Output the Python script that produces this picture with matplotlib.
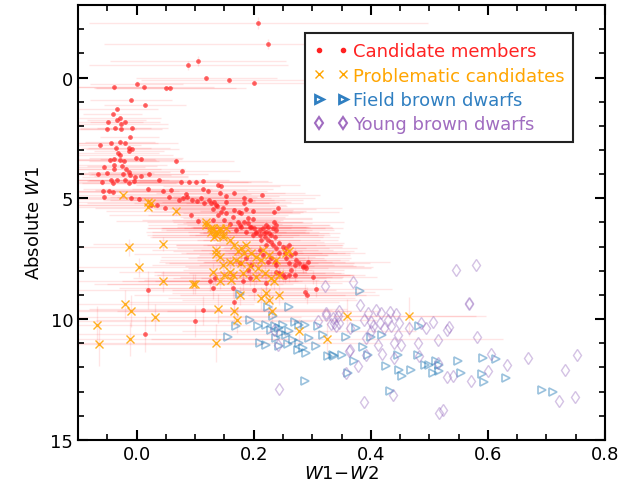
import numpy as np
import matplotlib
matplotlib.use("Agg")
import matplotlib.pyplot as plt
from matplotlib.lines import Line2D
from matplotlib.ticker import MultipleLocator

plt.rcParams['mathtext.fontset'] = 'dejavusans'

# --- candidate members (red), grouped by region of the CMD ---
top_x = [0.208, 0.225, 0.105, 0.088, 0.119, 0.158, 0.201, -0.038, 0.000, 0.013,
         0.050, 0.057, -0.009, 0.014, -0.033, -0.041]
top_y = [-2.27, -1.40, -0.69, -0.50, 0.04, 0.12, 0.21, 0.40, 0.25, 0.40,
         0.44, 0.44, 0.95, 1.12, 1.32, 1.53]
top_xerr = [0.29, 0.28, 0.15, 0.17, 0.12, 0.15, 0.20, 0.10, 0.08, 0.12,
            0.12, 0.13, 0.07, 0.07, 0.07, 0.05]
top_yerr = [0.25, 0.20, 0.20, 0.20, 0.10, 0.10, 0.10, 0.10, 0.10, 0.10,
            0.10, 0.10, 0.08, 0.08, 0.08, 0.08]

upper_x = [-0.049, -0.034, -0.029, -0.020, -0.026, -0.036, -0.051, -0.026, -0.007, -0.012,
           -0.062, -0.043, -0.028, -0.020, -0.013, -0.007, -0.035, -0.032, -0.028, -0.013,
           -0.046, -0.038, -0.029, -0.022, -0.001, 0.008, 0.067, -0.056, -0.038, -0.025,
           -0.038, -0.018, -0.013, 0.077, -0.065, -0.050, -0.023, -0.012, -0.003, 0.007,
           0.022]
upper_y = [1.86, 1.74, 1.69, 1.86, 1.94, 2.07, 2.14, 2.15, 2.11, 2.45,
           2.80, 2.73, 2.66, 2.73, 2.91, 2.96, 2.91, 3.14, 3.21, 3.04,
           3.42, 3.38, 3.42, 3.44, 3.35, 3.39, 3.44, 3.69, 3.60, 3.65,
           3.80, 3.80, 3.90, 3.87, 4.00, 3.97, 4.00, 4.04, 4.10, 4.06,
           4.00]
upper_xerr = [0.06, 0.05, 0.07, 0.06, 0.08, 0.06, 0.05, 0.07, 0.06, 0.05,
              0.07, 0.08, 0.06, 0.09, 0.07, 0.08, 0.06, 0.07, 0.09, 0.06,
              0.08, 0.07, 0.10, 0.06, 0.08, 0.07, 0.10, 0.07, 0.09, 0.06,
              0.08, 0.10, 0.07, 0.10, 0.09, 0.08, 0.10, 0.07, 0.09, 0.08,
              0.10]
upper_yerr = [0.08, 0.08, 0.10, 0.08, 0.10, 0.08, 0.10, 0.08, 0.10, 0.08,
              0.10, 0.08, 0.10, 0.08, 0.10, 0.08, 0.10, 0.08, 0.10, 0.08,
              0.10, 0.08, 0.10, 0.08, 0.10, 0.08, 0.12, 0.10, 0.08, 0.10,
              0.08, 0.10, 0.08, 0.12, 0.10, 0.08, 0.10, 0.08, 0.10, 0.08,
              0.10]

mid_x = [-0.034, -0.020, -0.005, 0.038, -0.059, -0.043, -0.040, -0.013, 0.076, 0.090,
         0.102, 0.114, 0.139, -0.057, -0.047, -0.040, 0.019, 0.045, 0.059, 0.113,
         0.122, -0.056, -0.009, 0.004, 0.055, 0.072, 0.080, 0.086, 0.095, 0.103,
         0.110, 0.123, 0.133, 0.137, 0.035, 0.049, 0.093, 0.025, 0.085, 0.116,
         0.127, 0.105]
mid_y = [4.24, 4.24, 4.28, 4.24, 4.34, 4.24, 4.38, 4.38, 4.34, 4.31,
         4.34, 4.28, 4.45, 4.68, 4.70, 4.75, 4.61, 4.68, 4.66, 4.63,
         4.70, 4.93, 4.97, 5.03, 4.93, 5.07, 5.00, 4.93, 5.07, 5.11,
         4.97, 5.07, 5.17, 5.30, 5.28, 5.38, 5.71, 5.28, 4.83, 5.21,
         5.21, 5.94]
mid_xerr = [0.09, 0.10, 0.08, 0.12, 0.10, 0.09, 0.11, 0.08, 0.12, 0.10,
            0.13, 0.11, 0.14, 0.10, 0.12, 0.09, 0.11, 0.10, 0.13, 0.12,
            0.10, 0.14, 0.11, 0.12, 0.10, 0.13, 0.11, 0.12, 0.14, 0.10,
            0.12, 0.13, 0.11, 0.12, 0.15, 0.12, 0.14, 0.13, 0.11, 0.12,
            0.10, 0.14]
mid_yerr = [0.10, 0.10, 0.12, 0.10, 0.12, 0.10, 0.12, 0.10, 0.12, 0.10,
            0.12, 0.10, 0.12, 0.10, 0.12, 0.10, 0.12, 0.10, 0.12, 0.10,
            0.12, 0.10, 0.12, 0.10, 0.12, 0.10, 0.12, 0.10, 0.12, 0.10,
            0.12, 0.10, 0.12, 0.10, 0.12, 0.10, 0.15, 0.12, 0.10, 0.12,
            0.10, 0.15]

core_x = [0.145, 0.167, 0.153, 0.143, 0.214, 0.184, 0.194, 0.153, 0.184, 0.136,
          0.147, 0.241, 0.167, 0.187, 0.199, 0.235, 0.130, 0.145, 0.153, 0.175,
          0.179, 0.139, 0.164, 0.190, 0.199, 0.130, 0.150, 0.173, 0.184, 0.235,
          0.159, 0.179, 0.193, 0.201, 0.210, 0.224, 0.238, 0.170, 0.204, 0.218,
          0.230,
          0.176, 0.190, 0.196, 0.216, 0.221, 0.210, 0.219, 0.227, 0.204, 0.199,
          0.213, 0.224, 0.230, 0.236, 0.221, 0.233, 0.238, 0.244, 0.250, 0.244,
          0.253, 0.256, 0.264, 0.270, 0.273, 0.261, 0.270, 0.278, 0.284, 0.290,
          0.238, 0.236, 0.230, 0.216, 0.210, 0.233, 0.238, 0.221, 0.187, 0.256,
          0.261, 0.244, 0.253, 0.270, 0.264, 0.224, 0.187, 0.176, 0.196, 0.190,
          0.238]
core_y = [4.49, 4.79, 4.89, 4.79, 4.86, 4.97, 5.07, 5.14, 5.21, 5.28,
          5.38, 5.38, 5.48, 5.44, 5.51, 5.58, 5.44, 5.55, 5.62, 5.55,
          5.62, 5.71, 5.76, 5.80, 5.85, 5.90, 5.90, 5.96, 5.96, 5.96,
          6.07, 6.17, 6.17, 6.24, 6.31, 6.17, 6.31, 6.31, 6.45, 6.45,
          6.52,
          6.10, 6.03, 6.17, 6.24, 6.38, 6.52, 6.58, 6.45, 6.38, 6.52,
          6.72, 6.72, 6.79, 6.58, 6.93, 6.93, 7.07, 6.86, 7.00, 7.27,
          7.27, 7.48, 7.34, 7.27, 7.55, 7.69, 7.75, 7.69, 7.82, 7.89,
          7.75, 7.62, 7.48, 7.34, 7.13, 6.24, 6.10, 6.10, 6.38, 7.07,
          6.93, 8.10, 8.24, 8.17, 7.96, 7.62, 7.48, 7.69, 7.75, 7.96,
          8.03]
core_xerr = [0.10, 0.12, 0.09, 0.11, 0.10, 0.12, 0.09, 0.11, 0.10, 0.12,
             0.09, 0.11, 0.10, 0.12, 0.09, 0.11, 0.10, 0.12, 0.09, 0.11,
             0.10, 0.12, 0.09, 0.11, 0.10, 0.12, 0.09, 0.11, 0.10, 0.12,
             0.09, 0.11, 0.10, 0.12, 0.09, 0.11, 0.10, 0.12, 0.09, 0.11,
             0.10,
             0.09, 0.11, 0.10, 0.12, 0.09, 0.11, 0.10, 0.12, 0.09, 0.11,
             0.10, 0.12, 0.09, 0.11, 0.10, 0.12, 0.09, 0.11, 0.10, 0.12,
             0.09, 0.11, 0.10, 0.12, 0.09, 0.11, 0.10, 0.12, 0.09, 0.11,
             0.10, 0.12, 0.09, 0.11, 0.10, 0.12, 0.09, 0.11, 0.10, 0.12,
             0.09, 0.11, 0.10, 0.12, 0.09, 0.11, 0.10, 0.12, 0.09, 0.11,
             0.10]
core_yerr = [0.10, 0.12, 0.10, 0.12, 0.10, 0.12, 0.10, 0.12, 0.10, 0.12,
             0.10, 0.12, 0.10, 0.12, 0.10, 0.12, 0.10, 0.12, 0.10, 0.12,
             0.10, 0.12, 0.10, 0.12, 0.10, 0.12, 0.10, 0.12, 0.10, 0.12,
             0.12, 0.15, 0.12, 0.15, 0.12, 0.15, 0.12, 0.15, 0.12, 0.15,
             0.12,
             0.12, 0.15, 0.12, 0.15, 0.12, 0.15, 0.12, 0.15, 0.12, 0.15,
             0.15, 0.18, 0.15, 0.18, 0.15, 0.18, 0.15, 0.18, 0.15, 0.18,
             0.18, 0.20, 0.18, 0.20, 0.18, 0.20, 0.18, 0.20, 0.18, 0.20,
             0.18, 0.20, 0.18, 0.20, 0.18, 0.15, 0.15, 0.15, 0.15, 0.18,
             0.18, 0.25, 0.25, 0.25, 0.20, 0.20, 0.20, 0.20, 0.20, 0.22,
             0.22]

low_x = [0.284, 0.288, 0.292, 0.301, 0.307, 0.288, 0.291, 0.019, 0.113, 0.100,
         0.015, 0.125, 0.134, 0.130, 0.166, 0.164, 0.201, 0.221, 0.250, 0.261,
         0.181, 0.193]
low_y = [7.85, 7.82, 7.62, 8.26, 8.75, 8.86, 9.02, 8.79, 9.64, 10.07,
         10.62, 8.44, 8.31, 8.72, 9.31, 8.72, 8.79, 8.51, 8.17, 8.17,
         8.44, 8.31]
low_xerr = [0.12, 0.10, 0.14, 0.11, 0.13, 0.12, 0.10, 0.18, 0.22, 0.20,
            0.25, 0.15, 0.14, 0.16, 0.18, 0.15, 0.14, 0.13, 0.12, 0.11,
            0.15, 0.13]
low_yerr = [0.25, 0.20, 0.25, 0.30, 0.35, 0.30, 0.35, 0.80, 0.60, 0.65,
            0.75, 0.40, 0.35, 0.45, 0.50, 0.40, 0.40, 0.35, 0.30, 0.30,
            0.35, 0.30]

# --- problematic candidates (orange) ---
prob_x = [-0.024, 0.019, 0.025, 0.019, 0.068, 0.118, 0.127, 0.136, 0.142, 0.147,
          0.133, -0.013, 0.046, 0.004, 0.045, 0.097, 0.100, -0.020, -0.009, 0.031,
          -0.067, -0.064, -0.012, 0.136, 0.130, 0.139, 0.136, 0.167, 0.171, 0.232,
          0.244, 0.227, 0.213, 0.277, 0.325, 0.142, 0.162, 0.176, 0.150, 0.159,
          0.181, 0.204, 0.230, 0.235, 0.221, 0.359, 0.466, 0.142, 0.136, 0.147,
          0.127, 0.153, 0.159, 0.167, 0.179, 0.187, 0.184, 0.173, 0.196, 0.204,
          0.213, 0.170, 0.159, 0.142, 0.136, 0.147, 0.179, 0.193, 0.207, 0.219,
          0.244, 0.256, 0.261, 0.216, 0.227, 0.238, 0.165, 0.119, 0.130]
prob_y = [4.86, 5.14, 5.21, 5.34, 5.52, 5.99, 6.24, 6.38, 6.24, 6.52,
          6.58, 7.02, 6.90, 7.86, 8.44, 8.55, 8.55, 9.38, 9.66, 9.93,
          10.26, 11.03, 10.81, 7.31, 8.03, 9.57, 10.99, 9.68, 10.03, 9.66,
          9.00, 9.20, 9.13, 10.48, 10.81, 8.44, 8.38, 9.02, 8.17, 8.03,
          8.10, 8.24, 8.31, 8.44, 8.93, 9.86, 9.89, 6.31, 6.52, 6.58,
          6.38, 6.24, 6.72, 6.93, 7.07, 6.93, 7.27, 7.20, 7.27, 7.41,
          7.55, 7.55, 7.62, 7.41, 7.13, 7.75, 7.69, 7.82, 7.89, 8.10,
          8.17, 7.27, 7.20, 7.13, 7.34, 7.55, 8.17, 6.10, 6.24]
prob_xerr = [0.10, 0.12, 0.11, 0.13, 0.12, 0.10, 0.11, 0.12, 0.10, 0.13,
             0.11, 0.15, 0.12, 0.16, 0.18, 0.17, 0.15, 0.22, 0.24, 0.25,
             0.26, 0.28, 0.27, 0.14, 0.16, 0.22, 0.28, 0.20, 0.24, 0.18,
             0.17, 0.15, 0.16, 0.20, 0.30, 0.14, 0.15, 0.18, 0.12, 0.13,
             0.14, 0.13, 0.12, 0.14, 0.16, 0.22, 0.13, 0.10, 0.11, 0.12,
             0.10, 0.11, 0.12, 0.10, 0.11, 0.12, 0.10, 0.11, 0.12, 0.10,
             0.11, 0.13, 0.12, 0.10, 0.11, 0.12, 0.13, 0.11, 0.12, 0.13,
             0.12, 0.10, 0.11, 0.12, 0.10, 0.11, 0.13, 0.10, 0.11]
prob_yerr = [0.12, 0.15, 0.12, 0.15, 0.15, 0.15, 0.15, 0.20, 0.15, 0.20,
             0.20, 0.35, 0.30, 0.40, 0.45, 0.40, 0.40, 0.60, 0.65, 0.55,
             0.80, 0.90, 0.70, 0.25, 0.35, 0.60, 0.80, 0.45, 0.55, 0.50,
             0.40, 0.40, 0.45, 0.50, 0.70, 0.30, 0.30, 0.40, 0.25, 0.25,
             0.30, 0.30, 0.35, 0.35, 0.40, 0.70, 0.80, 0.15, 0.20, 0.20,
             0.15, 0.15, 0.20, 0.20, 0.20, 0.20, 0.25, 0.20, 0.25, 0.25,
             0.25, 0.25, 0.25, 0.20, 0.20, 0.25, 0.25, 0.25, 0.30, 0.30,
             0.30, 0.25, 0.25, 0.25, 0.25, 0.25, 0.30, 0.15, 0.15]

# --- field brown dwarfs (blue) ---
field_x = [0.176, 0.224, 0.260, 0.193, 0.156, 0.170, 0.207, 0.221, 0.230, 0.236,
           0.244, 0.250, 0.247, 0.238, 0.255, 0.261, 0.267, 0.278, 0.275, 0.284,
           0.290, 0.210, 0.244, 0.258, 0.278, 0.287, 0.310, 0.318, 0.307, 0.327,
           0.338, 0.288, 0.233, 0.270, 0.221, 0.295, 0.381, 0.375, 0.357, 0.401,
           0.420, 0.336, 0.351, 0.386, 0.372, 0.395, 0.361, 0.426, 0.449, 0.453,
           0.469, 0.480, 0.483, 0.446, 0.492, 0.500, 0.506, 0.517, 0.511, 0.517,
           0.549, 0.554, 0.432, 0.591, 0.613, 0.590, 0.594, 0.631, 0.692, 0.712]
field_y = [8.97, 9.48, 9.48, 10.03, 10.72, 10.30, 10.30, 10.23, 10.44, 10.30,
           10.37, 10.23, 10.58, 10.78, 10.65, 10.51, 10.85, 10.99, 11.27, 11.20,
           11.40, 10.99, 11.13, 11.03, 10.23, 10.23, 10.30, 10.65, 11.13, 11.54,
           11.54, 12.55, 9.89, 10.10, 11.06, 10.78, 8.83, 10.37, 10.72, 10.72,
           10.65, 11.50, 11.47, 11.17, 11.75, 11.50, 12.23, 11.95, 12.09, 12.37,
           12.09, 11.50, 10.30, 11.47, 11.89, 11.91, 12.23, 12.16, 11.75, 11.89,
           11.75, 12.23, 12.96, 11.61, 11.64, 12.26, 12.62, 12.44, 12.95, 13.03]

# --- young brown dwarfs (purple) ---
young_x = [0.546, 0.369, 0.381, 0.567, 0.409, 0.418, 0.432, 0.443, 0.346, 0.344,
           0.335, 0.346, 0.395, 0.389, 0.401, 0.403, 0.415, 0.429, 0.435, 0.449,
           0.466, 0.486, 0.494, 0.506, 0.531, 0.534, 0.364, 0.392, 0.412, 0.440,
           0.446, 0.452, 0.480, 0.514, 0.364, 0.379, 0.420, 0.440, 0.483, 0.358,
           0.392, 0.514, 0.531, 0.541, 0.389, 0.438, 0.516, 0.523, 0.423, 0.401,
           0.580, 0.568, 0.581, 0.606, 0.633, 0.600, 0.571, 0.668, 0.732, 0.753,
           0.722, 0.749, 0.321, 0.243, 0.324, 0.332, 0.363, 0.324, 0.310, 0.338,
           0.341, 0.235, 0.241]
young_y = [7.96, 8.48, 9.41, 9.34, 9.61, 9.75, 9.71, 9.79, 9.68, 9.89,
           9.96, 10.16, 9.75, 10.03, 10.10, 10.30, 10.16, 10.03, 10.30, 10.16,
           10.37, 10.16, 10.37, 10.10, 10.44, 10.34, 10.37, 10.78, 11.06, 10.99,
           10.65, 11.06, 10.99, 10.85, 11.27, 11.95, 11.44, 11.61, 11.54, 12.23,
           11.47, 11.82, 12.41, 12.37, 13.43, 13.13, 13.88, 13.74, 10.37, 10.51,
           7.75, 9.37, 10.72, 11.44, 11.91, 12.16, 12.57, 11.61, 12.12, 11.47,
           13.40, 13.21, 8.62, 12.88, 9.82, 10.21, 11.33, 9.75, 10.07, 10.17,
           10.30, 10.45, 11.06]

cand_x = np.concatenate([top_x, upper_x, mid_x, core_x, low_x])
cand_y = np.concatenate([top_y, upper_y, mid_y, core_y, low_y])
cand_xerr = np.concatenate([top_xerr, upper_xerr, mid_xerr, core_xerr, low_xerr])
cand_yerr = np.concatenate([top_yerr, upper_yerr, mid_yerr, core_yerr, low_yerr])

c_red = '#ff2222'
c_orange = '#ffa500'
c_blue = '#2f7fc1'
c_purple = '#a06cc0'

fig = plt.figure(figsize=(6.22, 4.89), dpi=100)
ax = fig.add_axes([0.1254, 0.0982, 0.8473, 0.8895])

# error bars first, faint pink
ax.errorbar(cand_x, cand_y, xerr=cand_xerr, yerr=cand_yerr, fmt='none',
            ecolor='red', alpha=0.1, elinewidth=1.0, zorder=1)
ax.errorbar(prob_x, prob_y, xerr=prob_xerr, yerr=prob_yerr, fmt='none',
            ecolor='red', alpha=0.1, elinewidth=1.0, zorder=1)

ax.plot(cand_x, cand_y, 'o', color=c_red, ms=3.4, mew=0, alpha=0.7, zorder=3)
ax.plot(prob_x, prob_y, 'x', color=c_orange, ms=6, mew=1.0, alpha=0.85, zorder=4)
ax.plot(field_x, field_y, '>', mfc='none', mec='#1f77b4', ms=6, mew=1.2,
        alpha=0.45, zorder=2)
ax.plot(young_x, young_y, 'd', mfc='none', mec='#9467bd', ms=6.5, mew=1.0,
        alpha=0.4, zorder=2)

ax.set_xlim(-0.1, 0.8)
ax.set_ylim(15, -3)
ax.xaxis.set_major_locator(MultipleLocator(0.2))
ax.xaxis.set_minor_locator(MultipleLocator(0.05))
ax.yaxis.set_major_locator(MultipleLocator(5))
ax.yaxis.set_minor_locator(MultipleLocator(1))
ax.tick_params(which='both', direction='in', top=True, right=True, labelsize=13)
ax.tick_params(which='major', length=7, width=1.5)
ax.tick_params(which='minor', length=4, width=1.2)
for s in ax.spines.values():
    s.set_linewidth(1.5)

ax.set_xlabel(r'$W1\!-\!W2$', fontsize=13, labelpad=1)
ax.set_ylabel(r'Absolute $W1$', fontsize=13, labelpad=5)

handles = [
    Line2D([], [], ls='none', marker='.', color=c_red, ms=6),
    Line2D([], [], ls='none', marker='x', color=c_orange, ms=6, mew=1.0),
    Line2D([], [], ls='none', marker='>', mfc='none', mec=c_blue, ms=6, mew=2),
    Line2D([], [], ls='none', marker='d', mfc='none', mec=c_purple, ms=6, mew=1.5),
]
labels = ['Candidate members', 'Problematic candidates',
          'Field brown dwarfs', 'Young brown dwarfs']
leg = ax.legend(handles, labels, loc='upper right', bbox_to_anchor=(0.94, 0.935),
                borderaxespad=0, numpoints=2, fontsize=13, fancybox=False,
                framealpha=1, edgecolor='#222222', handlelength=1.9,
                handletextpad=0.25, labelspacing=0.35, borderpad=0.5)
leg.get_frame().set_linewidth(1.5)
for txt, col in zip(leg.get_texts(), [c_red, c_orange, c_blue, c_purple]):
    txt.set_color(col)

fig.savefig('out.png', dpi=100)
